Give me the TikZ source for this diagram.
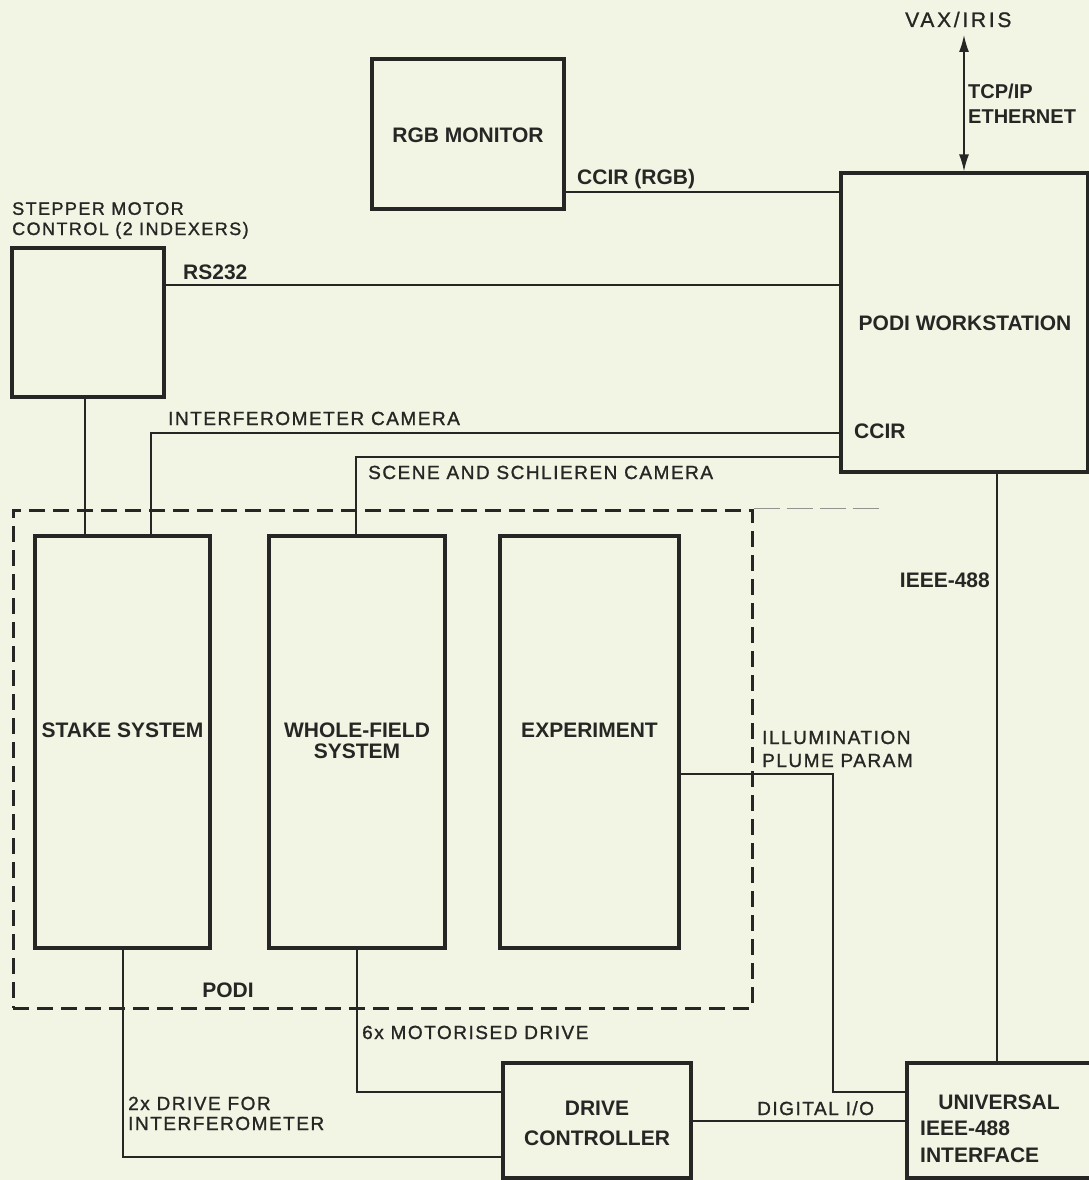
\documentclass[tikz,border=0pt]{standalone}
\usepackage{fontspec}
\setmainfont{Liberation Sans}
\newfontfamily\labfont[LetterSpace=8,FakeBold=1.2]{Liberation Sans}
\newfontfamily\vaxfont[LetterSpace=13,FakeBold=1.0]{Liberation Sans}
\usetikzlibrary{arrows.meta}
\definecolor{ink}{RGB}{38,38,36}
\definecolor{paper}{RGB}{243,245,228}
\tikzset{
  box/.style={draw=ink, line width=3.2pt, rectangle, inner sep=0pt},
  wire/.style={draw=ink, line width=1.5pt},
  btxt/.style={text=ink, font=\fontsize{21}{22}\selectfont\bfseries, inner sep=0pt},
  rtxt/.style={text=ink, font=\fontsize{19}{22}\selectfont\labfont, inner sep=0pt, anchor=base west},
  podiline/.style={draw=ink, line width=3pt, dash pattern=on 16pt off 8pt},
  twoway/.style={{Latex[length=17pt,width=10pt]}-{Latex[length=17pt,width=10pt]}}
}
\begin{document}
\begin{tikzpicture}[x=1pt,y=-1pt]
\useasboundingbox (0,0) rectangle (1089,1180);
\clip (0,0) rectangle (1089,1180);
\fill[paper] (0,0) rectangle (1089,1180);

% boxes
\node[box, minimum width=192pt, minimum height=150pt] (rgb) at (468,134) {};
\node[box, minimum width=247pt, minimum height=299pt] (ws) at (964.5,322.5) {};
\node[box, minimum width=152pt, minimum height=149pt] (stepbox) at (88,322.5) {};
\node[box, minimum width=175pt, minimum height=412pt] (stake) at (122.5,742) {};
\node[box, minimum width=176pt, minimum height=412pt] (whole) at (357,742) {};
\node[box, minimum width=179pt, minimum height=412pt] (exp) at (589.5,742) {};
\node[box, minimum width=188pt, minimum height=115pt] (drive) at (597,1120.5) {};
\node[box, minimum width=200pt, minimum height=115pt] (univ) at (1007,1120.5) {};

% PODI dashed region
\node[podiline, rectangle, inner sep=0pt, minimum width=739pt, minimum height=498pt] (podi) at (382.5,759) {};
\draw[ink!50, line width=1pt, dash pattern=on 26pt off 7pt] (podi.north east) -- ++(125,0);

% helper coordinates
\coordinate (yR) at (0,192);
\coordinate (yS) at (0,285);
\coordinate (cI) at (151,433);
\coordinate (cS) at (356,457);
\coordinate (xM) at (85,0);
\coordinate (xE) at (997,0);
\coordinate (e1) at (833,774);
\coordinate (e2) at (833,1092);
\coordinate (yD) at (0,1121);
\coordinate (cW) at (357,1092);
\coordinate (cK) at (123,1157);
\coordinate (vax) at (964,35);

% connectors
\draw[wire] (rgb.east |- yR) -- (ws.west |- yR);
\draw[wire] (stepbox.east |- yS) -- (ws.west |- yS);
\draw[wire] (stake.north -| cI) |- (ws.west |- cI);
\draw[wire] (whole.north -| cS) |- (ws.west |- cS);
\draw[wire] (stepbox.south -| xM) -- (stake.north -| xM);
\draw[wire] (ws.south -| xE) -- (univ.north -| xE);
\draw[wire] (exp.east |- e1) -- (e1) -- (e2) -- (univ.west |- e2);
\draw[wire] (drive.east |- yD) -- (univ.west |- yD);
\draw[wire] (whole.south -| cW) |- (drive.west |- cW);
\draw[wire] (stake.south -| cK) |- (drive.west |- cK);
\draw[wire, twoway] (vax) -- (ws.north -| vax);

% bold labels
\node[btxt, anchor=base] at (468,142.5) {RGB MONITOR};
\node[btxt, anchor=base] at (965,330.5) {PODI WORKSTATION};
\node[btxt, anchor=base west] at (854,438.5) {CCIR};
\node[btxt, anchor=base] at (122.5,737.5) {STAKE SYSTEM};
\node[btxt, anchor=base] at (357,737.5) {WHOLE-FIELD};
\node[btxt, anchor=base] at (357,758) {SYSTEM};
\node[btxt, anchor=base] at (589.5,737.5) {EXPERIMENT};
\node[btxt, anchor=base] at (597,1115.5) {DRIVE};
\node[btxt, anchor=base] at (597,1145.5) {CONTROLLER};
\node[btxt, anchor=base] at (999,1109.5) {UNIVERSAL};
\node[btxt, anchor=base west] at (920,1135.5) {IEEE-488};
\node[btxt, anchor=base west] at (920,1162.5) {INTERFACE};
\node[btxt, anchor=base] at (228,997.5) {PODI};
\node[btxt, anchor=base west] at (577,184.5) {CCIR (RGB)};
\node[btxt, anchor=base west] at (183,279.5) {RS232};
\node[btxt, anchor=base east] at (990,587.5) {IEEE-488};
\node[btxt, anchor=base west, font=\fontsize{20}{22}\selectfont\bfseries] at (968,99) {TCP/IP};
\node[btxt, anchor=base west, font=\fontsize{20}{22}\selectfont\bfseries] at (968,124) {ETHERNET};

% regular labels
\node[rtxt, font=\fontsize{18}{22}\selectfont\labfont] at (12,214.8) {STEPPER MOTOR};
\node[rtxt, font=\fontsize{18}{22}\selectfont\labfont] at (12,235) {CONTROL (2 INDEXERS)};
\node[rtxt] at (168,425) {INTERFEROMETER CAMERA};
\node[rtxt] at (368,479) {SCENE AND SCHLIEREN CAMERA};
\node[rtxt] at (762,744) {ILLUMINATION};
\node[rtxt] at (762,767) {PLUME PARAM};
\node[rtxt] at (362,1039) {6x MOTORISED DRIVE};
\node[rtxt] at (128,1110) {2x DRIVE FOR};
\node[rtxt] at (128,1130) {INTERFEROMETER};
\node[rtxt] at (757,1115) {DIGITAL I/O};
\node[rtxt, font=\fontsize{21}{22}\selectfont\vaxfont] at (905,27) {VAX/IRIS};
\end{tikzpicture}
\end{document}
